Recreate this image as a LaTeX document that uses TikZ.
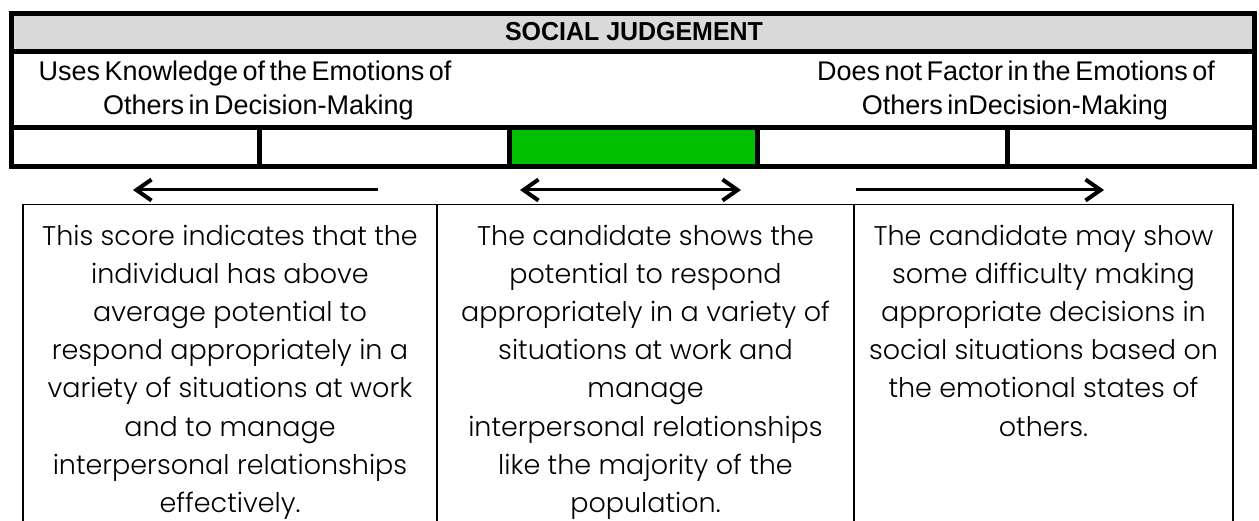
\documentclass[tikz,border=0pt]{standalone}
\usepackage{fontspec}
\usetikzlibrary{arrows.meta}
\newfontfamily\hdrfont{Liberation Sans}
\newfontfamily\ttlfont{Liberation Sans}[FakeStretch=0.96]
\newfontfamily\bodyfont{Poppins}[UprightFont=* Light]
\definecolor{hdrgray}{HTML}{D9D9D9}
\definecolor{barg}{HTML}{00C000}
\tikzset{
  thickline/.style={line width=5pt, line join=miter},
  boxline/.style={line width=1.8pt},
  arr/.style={line width=3pt, -{Straight Barb[length=15pt,width=21pt,line width=4pt]}},
  darr/.style={line width=3pt, {Straight Barb[length=15pt,width=21pt,line width=4pt]}-{Straight Barb[length=15pt,width=21pt,line width=4pt]}},
  ttl/.style={font=\ttlfont\bfseries\fontsize{26}{30}\selectfont, anchor=base, inner sep=0pt},
  hdrtxt/.style={font={\hdrfont\fontsize{27}{33}\selectfont\spaceskip=4.5pt plus 1pt\relax}, anchor=base, inner sep=0pt},
  bodytxt/.style={font=\bodyfont\fontsize{27}{38}\selectfont, anchor=base, inner sep=0pt}
}
\begin{document}
\begin{tikzpicture}[x=1pt,y=-1pt]
\useasboundingbox (0,0) rectangle (1259,521);
% header table fills
\fill[hdrgray] (11,13.5) rectangle (1254,52);
\fill[barg] (509.5,128) rectangle (757.5,167);
% header table lines
\draw[thickline] (11,13.5) rectangle (1254,167);
\draw[thickline] (11,52) -- (1254,52);
\draw[thickline] (11,128) -- (1254,128);
\foreach \xx in {259.5,509.5,757.5,1007} \draw[thickline] (\xx,128) -- (\xx,167);
% header texts
\node[ttl] (title) at (634,41) {SOCIAL JUDGEMENT};
\node[hdrtxt] (l1) at (245,81) {Uses Knowledge of the Emotions of};
\node[hdrtxt] (l2) at (258.5,115) {Others in Decision-Making};
\node[hdrtxt] (r1) at (1016,81) {Does not Factor in the Emotions of};
\node[hdrtxt] (r2) at (1015,115) {Others inDecision-Making};
% arrows
\coordinate (a1s) at (378,190); \coordinate (a1e) at (133,190);
\coordinate (a2s) at (520,190); \coordinate (a2e) at (741,190);
\coordinate (a3s) at (856,190); \coordinate (a3e) at (1104,190);
\draw[arr] (a1s) -- (a1e);
\draw[darr] (a2s) -- (a2e);
\draw[arr] (a3s) -- (a3e);
% description boxes
\draw[boxline] (23,204.5) -- (1233,204.5);
\foreach \xx in {23,437,854,1233} \draw[boxline] (\xx,204.5) -- (\xx,525);
\foreach \t [count=\i from 0] in {This score indicates that the,individual has above,average potential to,respond appropriately in a,variety of situations at work,and to manage,interpersonal relationships,effectively.}
  \node[bodytxt] (ba\i) at (230,{246+38*\i}) {\t};
\foreach \t [count=\i from 0] in {The candidate shows the,potential to respond,appropriately in a variety of,situations at work and,manage,interpersonal relationships,like the majority of the,population.}
  \node[bodytxt] (bb\i) at (645.5,{246+38*\i}) {\t};
\foreach \t [count=\i from 0] in {The candidate may show,some difficulty making,appropriate decisions in,social situations based on,the emotional states of,others.}
  \node[bodytxt] (bc\i) at (1043.5,{246+38*\i}) {\t};
\end{tikzpicture}
\end{document}
